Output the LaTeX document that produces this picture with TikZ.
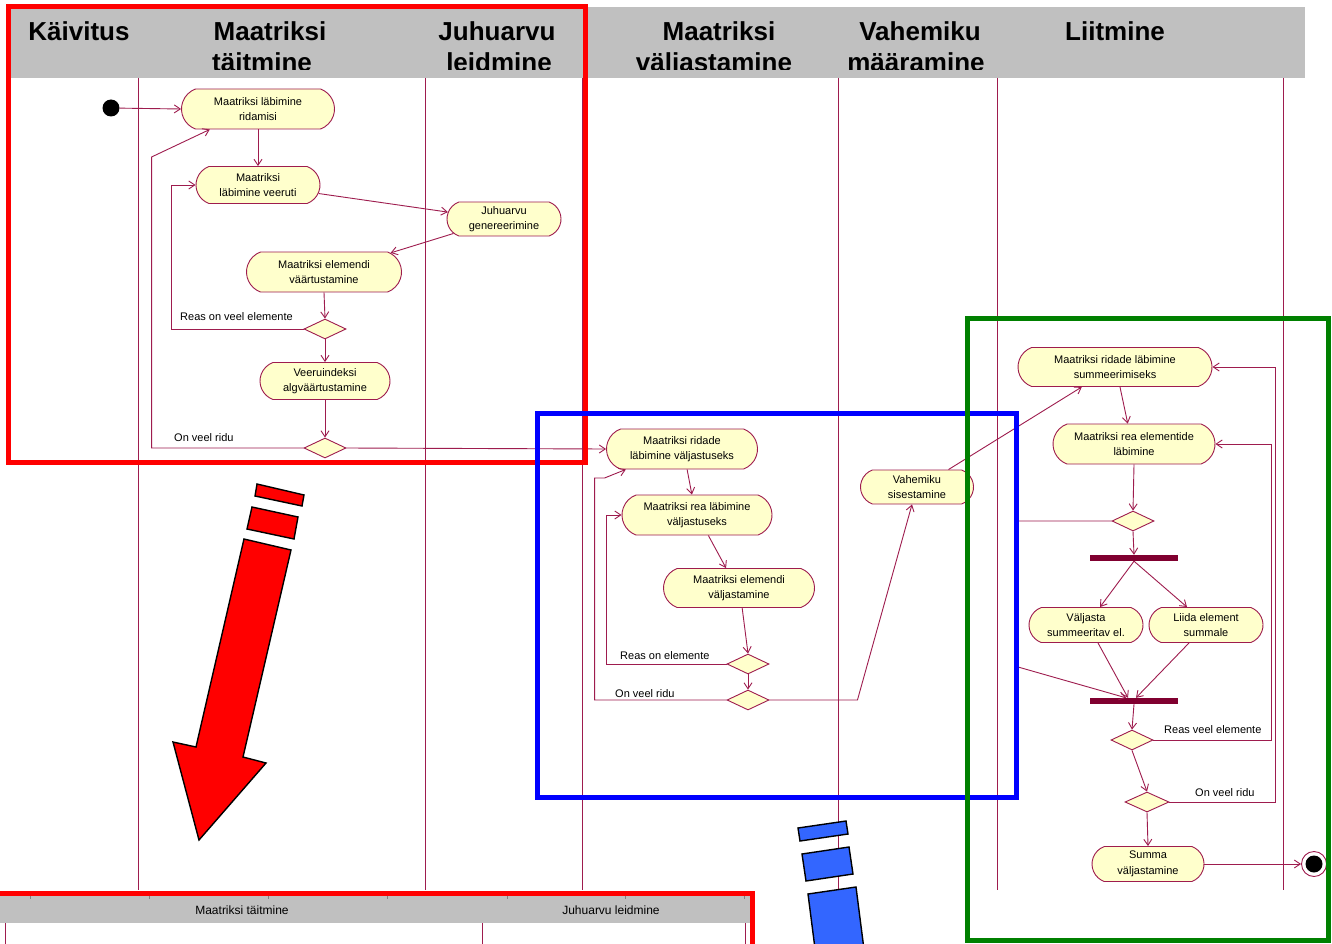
\documentclass[tikz,border=0pt]{standalone}
\usepackage{fontspec}
\setmainfont{Liberation Sans}
\usetikzlibrary{shapes.geometric,shapes.misc,arrows.meta}
\definecolor{wire}{RGB}{158,28,78}
\definecolor{actfill}{RGB}{255,255,204}
\definecolor{bandgray}{RGB}{192,192,192}
\definecolor{barfill}{RGB}{128,0,48}
\definecolor{mkred}{RGB}{255,0,0}
\definecolor{mkblue}{RGB}{0,0,255}
\definecolor{mkgreen}{RGB}{0,128,0}
\definecolor{arrowblue}{RGB}{51,102,255}
\begin{document}
\begin{tikzpicture}[x=1pt,y=-1pt,
  act/.style={rounded rectangle, rounded rectangle arc length=140, draw=wire, fill=actfill, line width=0.9pt,
    inner sep=0pt, align=center, font=\fontsize{11}{15.5}\selectfont},
  choice/.style={diamond, draw=wire, fill=actfill, line width=0.9pt, inner sep=0pt,
    minimum width=42pt, minimum height=20pt},
  syncbar/.style={rectangle, fill=barfill, inner sep=0pt, minimum width=88pt, minimum height=6pt},
  flow/.style={draw=wire, line width=0.9pt, -{Straight Barb[length=6pt,width=8pt]}},
  guard/.style={anchor=base west, inner sep=0pt, font=\fontsize{11}{12}\selectfont},
  lane/.style={draw=wire, line width=0.9pt},
  hdr/.style={anchor=base, inner sep=0pt, font=\fontsize{26}{31}\selectfont\bfseries},
  hlframe/.style={line width=5pt},
  bigarrow/.style={line width=1.4pt, draw=black, line join=miter}
]
\useasboundingbox (0,0) rectangle (1332,944);
\clip (0,0) rectangle (1332,944);
\fill[white] (0,0) rectangle (1332,944);

% swimlane header
\fill[bandgray] (8,7) rectangle (1305,78);
\begin{scope}
  \clip (8,7) rectangle (1305,70);
  \node[hdr] (h1) at (79,40.5) {Käivitus};
  \node[hdr] (h2a) at (270,40.5) {Maatriksi};
  \node[hdr] (h2b) at (262,71.5) {täitmine};
  \node[hdr] (h3a) at (497,40.5) {Juhuarvu};
  \node[hdr] (h3b) at (499,71.5) {leidmine};
  \node[hdr] (h4a) at (719,40.5) {Maatriksi};
  \node[hdr] (h4b) at (714,71.5) {väljastamine};
  \node[hdr] (h5a) at (920,40.5) {Vahemiku};
  \node[hdr] (h5b) at (916,71.5) {määramine};
  \node[hdr] (h6) at (1115,40.5) {Liitmine};
\end{scope}

% lane separators
\foreach \lx in {138,425,582,838,997,1283}
  \draw[lane] (\lx,78) -- (\lx,890);

% initialisation and filling of the matrix
\node[circle, fill=black, minimum size=17pt, inner sep=0pt] (start) at (111,108) {};
\node[act, minimum width=153pt, minimum height=40pt] (a1) at (258,109) {Maatriksi läbimine\\ridamisi};
\node[act, minimum width=124pt, minimum height=37pt] (a2) at (258,185) {Maatriksi\\läbimine veeruti};
\node[act, minimum width=114pt, minimum height=34pt] (a3) at (504,219) {Juhuarvu\\genereerimine};
\node[act, minimum width=155pt, minimum height=40pt] (a4) at (324,272) {Maatriksi elemendi\\väärtustamine};
\node[choice] (d1) at (325,329) {};
\node[act, minimum width=130pt, minimum height=37pt] (a5) at (325,381) {Veeruindeksi\\algväärtustamine};
\node[choice] (d2) at (325,448) {};

\draw[flow] (start) -- (a1.west);
\draw[flow] (a1.south) -- (a2.north);
\draw[flow] (a2.-8) -- (a3.173);
\draw[flow] (a3.196) -- (a4.16);
\draw[flow] (a4.south) -- (d1.north);
\draw[flow] (d1.south) -- (a5.north);
\draw[flow] (a5.south) -- (d2.north);
\draw[flow] (d1.west) -- ++(-132,0) |- (a2.west);
\draw[flow] (d2.west) -- ++(-152,0) -- ++(0,-291) -- (a1.203);
\node[guard] (g1) at (180,320) {Reas on veel elemente};
\node[guard] (g2) at (174,441) {On veel ridu};

% printing of the matrix
\node[act, minimum width=151pt, minimum height=40pt] (b1) at (682,449) {Maatriksi ridade\\läbimine väljastuseks};
\node[act, minimum width=150pt, minimum height=40pt] (b2) at (697,515) {Maatriksi rea läbimine\\väljastuseks};
\node[act, minimum width=151pt, minimum height=39pt] (b3) at (739,588) {Maatriksi elemendi\\väljastamine};
\node[choice] (d3) at (748,664) {};
\node[choice] (d4) at (748,700) {};
\node[act, minimum width=113pt, minimum height=34pt] (b4) at (917,487) {Vahemiku\\sisestamine};

\draw[flow] (d2.east) -- (b1.west);
\draw[flow] (b1.284) -- (b2.104);
\draw[flow] (b2.299) -- (b3.123);
\draw[flow] (b3.279) -- (d3.north);
\draw[flow] (d3.south) -- (d4.north);
\draw[flow] (d3.west) -- ++(-120,0) |- (b2.west);
\draw[flow] (d4.west) -- ++(-132,0) -- ++(0,-222) -- ++(10,0) -- (b1.200);
\draw[flow] (d4.east) -- ++(88,0) -- (b4.254);
\node[guard] (g3) at (620,659) {Reas on elemente};
\node[guard] (g4) at (615,697) {On veel ridu};

% summation
\node[act, minimum width=194pt, minimum height=39pt] (c1) at (1115,367) {Maatriksi ridade läbimine\\summeerimiseks};
\node[act, minimum width=162pt, minimum height=40pt] (c2) at (1134,444) {Maatriksi rea elementide\\läbimine};
\node[choice] (d5) at (1133,521) {};
\node[syncbar] (fork) at (1134,558) {};
\node[act, minimum width=114pt, minimum height=35pt] (c3) at (1086,625) {Väljasta\\summeeritav el.};
\node[act, minimum width=114pt, minimum height=35pt] (c4) at (1206,625) {Liida element\\summale};
\node[syncbar] (join) at (1134,701) {};
\node[choice] (d6) at (1132,740) {};
\node[choice, minimum width=44pt] (d7) at (1147,802) {};
\node[act, minimum width=112pt, minimum height=35pt] (c5) at (1148,864) {Summa\\väljastamine};
\node[circle, draw=wire, fill=white, line width=0.9pt, minimum size=25pt, inner sep=0pt] (stop) at (1314,864) {};
\node[circle, fill=black, minimum size=17pt, inner sep=0pt] (stopdot) at (stop.center) {};

\draw[flow] (b4.29) -- (c1.211);
\draw[flow] (c1.284) -- (c2.107);
\draw[flow] (c2.south) -- (d5.north);
\draw[flow] (d5.south) -- (fork.north);
\draw[flow] (fork.south) -- ([xshift=14pt]c3.north);
\draw[flow] (fork.south) -- ([xshift=-19pt]c4.north);
\draw[flow] ([xshift=12pt]c3.south) -- ([xshift=-6pt]join.north);
\draw[flow] ([xshift=-17pt]c4.south) -- ([xshift=2pt]join.north);
\draw[flow] (d5.west) -- ++(-97,0) -- ++(0,145) -- ([xshift=-8pt]join.north);
\draw[flow] (join.south) -- (d6.north);
\draw[flow] (d6.east) -- ++(118,0) |- (c2.east);
\draw[flow] (d6.south) -- (d7.north);
\draw[flow] (d7.east) -- ++(106,0) |- (c1.east);
\draw[flow] (d7.south) -- (c5.north);
\draw[flow] (c5.east) -- (stop.west);
\node[guard] (g5) at (1164,733) {Reas veel elemente};
\node[guard] (g6) at (1195,796) {On veel ridu};

% second swimlane header strip
\fill[bandgray] (-5,896) rectangle (750,923);
\foreach \tx in {30,149,268,387,507,625,744}
  \draw[gray, line width=0.8pt] (\tx,896) -- (\tx,899);
\node[anchor=center, inner sep=0pt, font=\fontsize{12}{14}\selectfont] (s1) at (242,910) {Maatriksi täitmine};
\node[anchor=center, inner sep=0pt, font=\fontsize{12}{14}\selectfont] (s2) at (611,910) {Juhuarvu leidmine};
\foreach \lx in {5,482,745}
  \draw[lane] (\lx,923) -- (\lx,950);

% highlight frames
\draw[mkred, hlframe] (8,7) rectangle (585,462);
\draw[mkblue, hlframe] (537,413) rectangle (1016,797);
\draw[mkgreen, hlframe] (967,318) rectangle (1328,940);
\draw[mkred, hlframe] (-10,893) -- (752,893) -- (752,960);

% red pointer
\filldraw[fill=mkred, bigarrow] (257,484) -- (304,495) -- (302,506) -- (255,496) -- cycle;
\filldraw[fill=mkred, bigarrow] (252,507) -- (298,517) -- (294,539) -- (247,529) -- cycle;
\filldraw[fill=mkred, bigarrow] (244,539) -- (291,550) -- (243,757) -- (266,763) -- (199,840)
  -- (173,742) -- (196,747) -- cycle;

% blue pointer
\filldraw[fill=arrowblue, bigarrow] (798,828) -- (846,821) -- (848,834) -- (800,841) -- cycle;
\filldraw[fill=arrowblue, bigarrow] (802,854) -- (849,847) -- (853,874) -- (806,881) -- cycle;
\filldraw[fill=arrowblue, bigarrow] (808,894) -- (856,887) -- (866,965) -- (818,972) -- cycle;
\end{tikzpicture}
\end{document}
